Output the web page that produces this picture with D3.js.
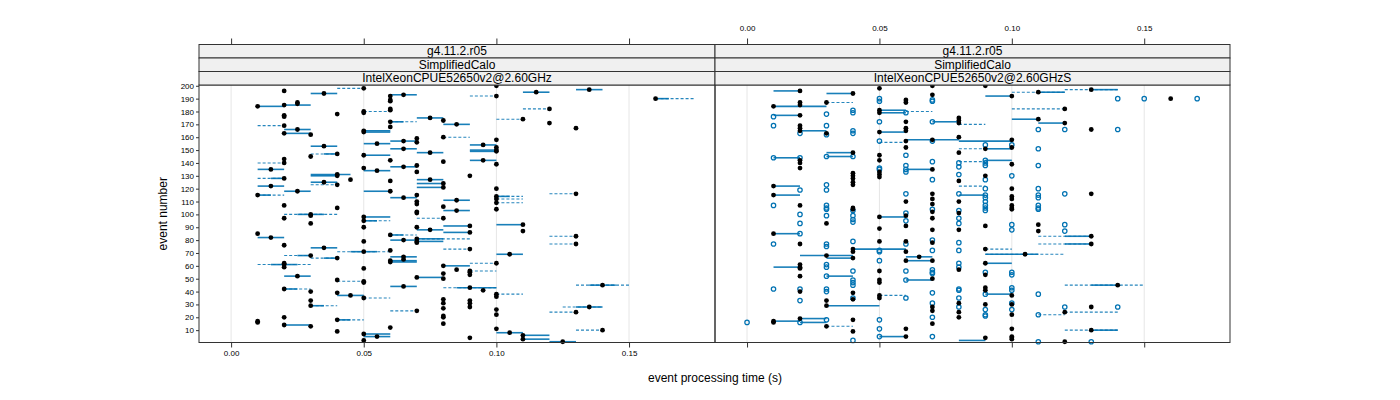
<!DOCTYPE html>
<html><head><meta charset="utf-8">
<script src="https://cdn.jsdelivr.net/npm/d3@7"></script>
<style>body{margin:0;background:#fff}svg{display:block;font-family:"Liberation Sans",Arial,sans-serif}</style>
</head><body><svg id="c" width="1400" height="400"></svg>
<script>
// ---------------- data ----------------
const stripLevels = ["g4.11.2.r05", "SimplifiedCalo"];
const panelNames = ["IntelXeonCPUE52650v2@2.60GHz", "IntelXeonCPUE52650v2@2.60GHzS"];
const xTicks = [0, 0.05, 0.10, 0.15];
const yTicks = [10,20,30,40,50,60,70,80,90,100,110,120,130,140,150,160,170,180,190,200];
const xLabel = "event processing time (s)";
const yLabel = "event number";

// left panel: median event time (ms) per event
const leftEvent = [196,194,184,185,186,187,177,176,178,169,166,163,162,153,147,145,143,140,135,128,131,130,127,125,123,122,118,115,107,105,100,99,97,93,85,82,76,74,68,66,62,61,59,52,49,42,40,39,37,33,29,17,16,20,14,13,18,9,
 198,192,189,188,193,180,179,182,181,172,168,175,173,170,164,165,155,157,159,156,160,151,146,142,148,141,158,154,150,149,152,142,139,130,120,134,136,137,138,133,126,118,127,124,121,115,113,110,108,106,111,103,114,112,109,104,98,102,97,174,192,200,
 95,90,101,90,88,91,86,92,87,84,80,81,79,78,79,71,72,64,63,67,65,73,69,62,60,57,54,50,56,55,53,58,48,47,51,44,43,41,38,36,35,34,31,27,25,33,31,28,26,22,21,20,15,11,8,6,3,7,2,5,12,4,
 195,197,190,182,171,167,116,83,77,45,28,24,10,1];
const leftTimeMs = [20,35,10,20,25,25,20,20,40,20,25,20,30,35,40,30,20,20,15,20,40,40,45,35,40,15,25,10,20,40,30,30,20,30,10,15,20,35,30,40,20,20,20,25,40,20,30,40,45,30,30,10,10,20,20,30,40,40,
 50,60,60,60,65,50,50,60,60,60,60,75,80,85,50,50,55,65,70,70,80,65,50,60,75,80,100,95,100,100,100,95,100,90,100,55,50,65,70,70,60,60,75,80,80,70,65,70,70,80,85,85,100,100,100,100,50,70,80,110,100,100,
 50,50,70,70,75,90,90,110,110,60,65,70,70,70,50,50,60,60,60,65,65,90,105,100,80,85,80,80,90,90,90,50,50,50,70,65,90,95,100,100,50,80,80,80,70,90,90,90,100,100,80,80,80,100,105,110,110,50,50,55,60,90,
 115,135,160,120,120,130,130,130,130,140,135,130,140,125];
// left panel: inter-quartile spans (ms)
const leftIqrEvent = [194,184,185,166,163,153,147,135,128,131,130,125,122,118,115,100,82,74,68,66,61,52,42,37,29,14,18,193,172,175,170,164,165,155,157,151,146,148,154,150,149,142,134,137,118,127,124,121,113,111,103,114,95,98,88,91,86,92,84,80,81,79,71,64,63,67,69,60,51,44,43,8,6,3,7,5,195,197,190,45,28,1];
const leftIqrFrom  = [30,10,20,20,20,30,35,10,15,30,30,30,10,20,10,25,10,30,25,35,15,20,20,40,30,20,40,60,60,70,80,50,50,50,60,60,50,70,90,90,90,90,50,60,50,70,70,70,60,80,80,100,50,50,70,80,80,100,60,60,70,70,45,60,60,60,100,80,70,60,85,100,110,110,50,50,110,130,160,135,130,120];
const leftIqrTo    = [40,20,30,30,30,40,40,20,20,45,40,40,20,30,15,35,20,40,30,40,25,30,25,50,35,30,45,70,65,80,90,60,60,60,70,70,60,80,100,100,100,100,60,70,60,80,80,80,70,90,90,105,55,60,80,90,90,110,65,70,80,80,55,70,70,70,110,90,80,70,100,110,120,120,60,60,120,140,165,145,140,130];
// left panel: full min-max spans (ms)
const leftRangeEvent = [169,140,128,147,123,115,100,68,66,61,42,29,18,198,180,172,160,114,97,174,192,95,84,81,71,73,62,56,48,43,38,35,25,182,116,83,77,45,28,24,10,190,112,109];
const leftRangeFrom  = [10,10,10,30,30,10,20,20,30,10,20,30,40,40,50,60,80,100,70,100,90,50,60,70,40,80,90,90,40,80,100,50,60,110,120,120,120,130,125,120,130,160,100,100];
const leftRangeTo    = [20,20,20,40,40,20,40,30,40,30,30,40,50,50,60,70,90,110,80,110,100,60,70,90,60,90,100,100,50,100,110,60,70,120,130,130,130,150,140,130,140,175,110,110];

// right panel: two runs, one drawn filled, one open
const rightFilledEvent = [196,194,198,200,193,189,187,184,187,185,187,177,169,167,165,163,181,179,164,172,167,165,175,173,171,157,152,158,160,148,148,142,140,136,146,142,133,131,129,135,132,130,128,125,123,122,115,107,105,110,116,112,108,126,110,
 200,192,195,197,190,182,174,171,166,158,152,151,139,130,120,116,114,112,107,105,
 85,17,16,77,61,59,58,52,40,19,93,68,33,29,13,104,73,71,66,39,34,18,9,98,89,79,56,49,47,37,35,99,91,79,71,64,11,5,67,102,97,88,78,64,50,28,25,15,101,88,57,31,24,20,
 104,91,92,87,83,77,73,69,62,53,43,41,37,30,30,22,28,24,45,10,11,5,4,3,4,1];
const rightFilledMs = [20,40,50,70,70,60,60,10,20,20,30,20,20,20,20,30,50,50,50,60,60,60,80,80,80,60,60,70,80,80,40,20,20,20,50,50,50,50,50,70,40,40,40,40,40,10,10,20,40,60,70,70,70,80,80,
 90,100,110,130,160,120,110,120,130,100,100,90,100,90,100,130,100,100,100,100,
 10,10,10,20,20,20,20,20,20,20,30,30,30,30,30,40,40,40,40,40,40,40,40,50,50,50,50,50,50,50,50,60,60,60,60,60,60,60,65,70,70,70,70,70,70,70,70,70,80,80,80,80,80,80,
 100,90,110,110,130,130,90,105,90,90,90,90,100,90,100,100,130,120,140,130,100,100,100,100,90,120];
const rightOpenEvent = [189,188,190,188,176,169,163,178,169,162,181,179,165,163,172,179,172,157,157,145,145,144,144,136,135,146,138,135,133,141,140,137,123,119,119,107,107,105,103,116,104,127,131,116,103,
 190,190,190,166,166,166,154,154,151,142,140,138,138,127,130,120,120,116,115,113,110,107,105,115,113,107,105,
 16,77,42,100,93,85,42,33,16,104,99,77,75,61,59,52,42,40,18,99,96,94,79,56,49,47,45,35,2,72,71,64,18,11,5,101,95,77,56,49,35,80,72,57,55,54,39,31,20,5,97,93,78,72,62,59,42,41,35,28,
 103,104,92,88,92,87,55,55,53,43,41,38,38,26,22,21,31,26,22,28,28,1,1];
const rightOpenMs = [70,70,50,50,10,10,20,30,30,30,40,40,40,40,50,60,70,50,70,40,30,20,10,50,50,60,60,60,60,70,80,80,30,30,20,10,30,30,40,60,70,70,80,80,80,
 140,150,170,110,120,140,100,90,110,90,90,90,110,90,100,90,110,120,90,90,90,90,90,110,110,110,110,
 0,10,10,20,20,20,20,20,20,30,30,30,30,30,30,30,30,30,30,40,40,40,40,40,40,40,40,40,40,50,50,50,50,50,50,60,60,60,60,60,60,70,70,70,70,70,70,70,70,70,80,80,80,80,80,80,80,80,80,80,
 90,110,100,100,120,120,90,100,100,100,100,90,110,90,90,90,100,100,110,120,140,110,130];
const rightIqrEvent = [196,194,184,177,165,181,179,164,158,148,145,144,135,122,115,172,192,195,197,171,174,85,17,19,16,68,52,29,73,66,98,5,64,49,67,83,77,69,62,38,45,10,59,157,151,142,115,2];
const rightIqrFrom  = [10,30,10,10,20,50,50,50,60,30,30,10,60,10,10,70,90,110,130,110,100,10,10,20,20,20,30,30,40,30,50,50,60,60,60,120,120,90,90,90,130,130,10,80,90,90,80,80];
const rightIqrTo    = [20,40,30,20,30,60,60,60,80,40,40,20,70,20,20,80,100,120,140,120,110,20,20,30,30,40,40,50,60,40,60,60,70,70,70,130,130,110,100,100,140,140,20,100,100,100,90,90];
const rightRangeEvent = [187,156,180,195,197,182,13,37,83,77,73,69,45,22,24,10,170,151,141,122];
const rightRangeFrom  = [30,50,60,100,120,100,30,50,110,110,90,90,120,110,120,120,80,80,80,80];
const rightRangeTo    = [40,60,70,120,140,120,40,60,130,130,100,120,150,120,140,140,90,90,90,90];

// ---------------- drawing ----------------
const svg = d3.select("#c");
const font = '"Liberation Sans", Arial, Helvetica, sans-serif';
const blue = "#0072b2";
const panelTop = 85, panelBottom = 342.5;
const stripH = 13.5;
const xDomain = [-0.0121, 0.1824];
const y = d3.scaleLinear().domain([0.4, 200.6]).range([panelBottom, panelTop]);

const zip = (ev, a, b) => ev.map((e, i) => ({e, a: a[i] / 1000, b: b ? b[i] / 1000 : null}));

const panels = [
  {name: panelNames[0], x0: 199, x1: 715,
   filled: zip(leftEvent, leftTimeMs), open: [],
   iqr: zip(leftIqrEvent, leftIqrFrom, leftIqrTo), range: zip(leftRangeEvent, leftRangeFrom, leftRangeTo),
   topLabels: false, bottomLabels: true},
  {name: panelNames[1], x0: 715, x1: 1230,
   filled: zip(rightFilledEvent, rightFilledMs), open: zip(rightOpenEvent, rightOpenMs),
   iqr: zip(rightIqrEvent, rightIqrFrom, rightIqrTo), range: zip(rightRangeEvent, rightRangeFrom, rightRangeTo),
   topLabels: true, bottomLabels: false}
];

panels.forEach((p, pi) => {
  const x = d3.scaleLinear().domain(xDomain).range([p.x0, p.x1]);
  const g = svg.append("g");
  // grid
  g.selectAll("line.grid").data(xTicks).join("line")
    .attr("x1", d => x(d)).attr("x2", d => x(d))
    .attr("y1", panelTop).attr("y2", panelBottom)
    .attr("stroke", "#e6e6e6").attr("stroke-width", 1);
  // ranges (dashed)
  g.selectAll("line.rng").data(p.range).join("line")
    .attr("x1", d => x(d.a)).attr("x2", d => x(d.b))
    .attr("y1", d => y(d.e)).attr("y2", d => y(d.e))
    .attr("stroke", blue).attr("stroke-width", 1.1).attr("stroke-dasharray", "3,2").attr("opacity", 0.85);
  // iqr (solid)
  g.selectAll("line.iqr").data(p.iqr).join("line")
    .attr("x1", d => x(d.a)).attr("x2", d => x(d.b))
    .attr("y1", d => y(d.e)).attr("y2", d => y(d.e))
    .attr("stroke", blue).attr("stroke-width", 1.6).attr("opacity", 0.9);
  // open points
  g.selectAll("circle.o").data(p.open).join("circle")
    .attr("cx", d => x(d.a)).attr("cy", d => y(d.e)).attr("r", 2.2)
    .attr("fill", "none").attr("stroke", blue).attr("stroke-width", 1.25);
  // filled points
  g.selectAll("circle.f").data(p.filled).join("circle")
    .attr("cx", d => x(d.a)).attr("cy", d => y(d.e)).attr("r", 2.4)
    .attr("fill", "#000");
  // border
  g.append("rect").attr("x", p.x0).attr("y", panelTop).attr("width", p.x1 - p.x0).attr("height", panelBottom - panelTop)
    .attr("fill", "none").attr("stroke", "#333").attr("stroke-width", 1);
  // strips
  const strips = [stripLevels[0], stripLevels[1], p.name];
  strips.forEach((s, si) => {
    const sy = panelTop - stripH * (3 - si);
    g.append("rect").attr("x", p.x0).attr("y", sy).attr("width", p.x1 - p.x0).attr("height", stripH)
      .attr("fill", "#f0f0f0").attr("stroke", "#333").attr("stroke-width", 1);
    g.append("text").attr("x", (p.x0 + p.x1) / 2).attr("y", sy + stripH / 2 + 4.2)
      .attr("text-anchor", "middle").attr("font-family", font).attr("font-size", 12).text(s);
  });
  // axes
  const stripTop = panelTop - 3 * stripH;
  const bottom = d3.axisBottom(x).tickValues(xTicks).tickSize(5).tickPadding(3)
    .tickFormat(p.bottomLabels ? d3.format(".2f") : () => "");
  const top = d3.axisTop(x).tickValues(xTicks).tickSize(6).tickPadding(8)
    .tickFormat(p.topLabels ? d3.format(".2f") : () => "");
  [[bottom, panelBottom], [top, stripTop]].forEach(([ax, ty]) => {
    const a = g.append("g").attr("transform", `translate(0,${ty})`).call(ax);
    a.select(".domain").remove();
    a.selectAll("line").attr("stroke", "#333");
    a.selectAll("text").attr("font-family", font).attr("font-size", 8).attr("fill", "#000");
  });
  if (pi === 0) {
    const a = g.append("g").attr("transform", `translate(${p.x0},0)`)
      .call(d3.axisLeft(y).tickValues(yTicks).tickSize(3).tickPadding(2));
    a.select(".domain").remove();
    a.selectAll("line").attr("stroke", "#333");
    a.selectAll("text").attr("font-family", font).attr("font-size", 8).attr("fill", "#000");
  }
});

svg.append("text").attr("x", 715).attr("y", 382).attr("text-anchor", "middle")
  .attr("font-family", font).attr("font-size", 12).text(xLabel);
svg.append("text").attr("transform", `translate(167,${(panelTop + panelBottom) / 2}) rotate(-90)`)
  .attr("text-anchor", "middle").attr("font-family", font).attr("font-size", 12).text(yLabel);
</script>
</body></html>
